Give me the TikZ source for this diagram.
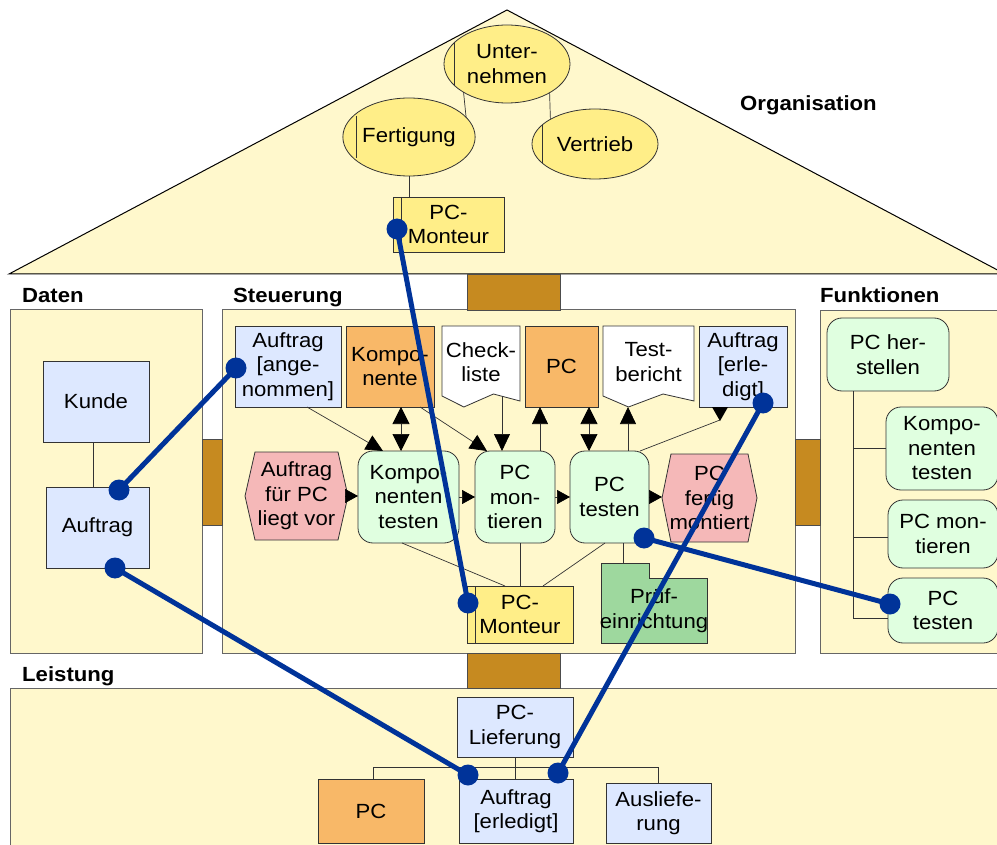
\documentclass[tikz,border=0pt]{standalone}
\usepackage{fontspec}
\setmainfont{Liberation Sans}[FakeStretch=1.08]
\usetikzlibrary{shapes.geometric,arrows.meta,calc}

\definecolor{panel}{HTML}{FFF8CC}
\definecolor{pillar}{HTML}{C68A20}
\definecolor{infoblue}{HTML}{DDE8FF}
\definecolor{prodorange}{HTML}{F8B868}
\definecolor{orgyellow}{HTML}{FFEE88}
\definecolor{funcgreen}{HTML}{E0FFE0}
\definecolor{eventpink}{HTML}{F5B8B8}
\definecolor{resgreen}{HTML}{9ED89E}
\definecolor{linkblue}{HTML}{003399}
\definecolor{edge}{HTML}{333333}

\newcommand\txt{\fontsize{20.5}{24.5}\selectfont}
\newcommand\lbl{\fontsize{20.5}{22}\selectfont\bfseries}

% document symbol with a wavy lower edge: x0, y0, width, height, style
\newcommand\docshape[5]{\filldraw[#5] (#1,#2) -- (#1+#3,#2) -- (#1+#3,#2+#4-6)
  -- (#1+0.66*#3,#2+#4-13) -- (#1+0.28*#3,#2+#4) -- (#1,#2+#4-11) -- cycle;}
% event hexagon: x0, y0, width, height, inset, style
\newcommand\hexshape[6]{\filldraw[#6] (#1,#2+#4/2) -- (#1+#5,#2) -- (#1+#3-#5,#2)
  -- (#1+#3,#2+#4/2) -- (#1+#3-#5,#2+#4) -- (#1+#5,#2+#4) -- cycle;}

\begin{document}
\begin{tikzpicture}[x=1pt,y=-1pt,
  base/.style={inner sep=0pt, outer sep=0pt, align=center, font=\txt},
  wh/.style 2 args={minimum width=#1pt, minimum height=#2pt},
  box/.style={base, rectangle, draw=edge, line width=0.8pt},
  info/.style={box, fill=infoblue},
  prod/.style={box, fill=prodorange},
  orgunit/.style={box, fill=orgyellow},
  func/.style={box, fill=funcgreen, rounded corners=15pt},
  orgell/.style={base, ellipse, draw=edge, line width=0.8pt, fill=orgyellow},
  outline/.style={draw=edge, line width=0.8pt},
  panelbox/.style={fill=panel, draw=black!60, line width=1pt},
  pillarbox/.style={fill=pillar, draw=black!70, line width=0.6pt},
  title/.style={anchor=base west, inner sep=0pt, font=\lbl},
  conn/.style={draw=edge, line width=0.7pt},
  tip/.style={Triangle[length=17pt,width=17pt,fill=black,color=black]},
  flow/.style={conn, -{Triangle[length=17pt,width=16pt,color=black]}},
  flowboth/.style={conn, {Triangle[length=17pt,width=17pt,color=black]}-{Triangle[length=17pt,width=17pt,color=black]}},
  link/.style={draw=linkblue, line width=5pt},
  dot/.style={fill=linkblue}]

\clip (0,0) rectangle (997,845);
\fill[white] (0,0) rectangle (997,845);

% ---------- house frame ----------
\filldraw[fill=panel, draw=black, line width=1pt] (9,274) -- (507,10) -- (1005,274) -- cycle;
\filldraw[panelbox] (10,310) rectangle (202,653);
\filldraw[panelbox] (222,310) rectangle (795,653);
\filldraw[panelbox] (820,311) rectangle (1005,653);
\filldraw[panelbox] (10,688) rectangle (1005,852);
\filldraw[pillarbox] (467,274) rectangle (560,310);
\filldraw[pillarbox] (202,439) rectangle (222,525);
\filldraw[pillarbox] (795,439) rectangle (820,525);
\filldraw[pillarbox] (467,653) rectangle (560,688);

\node[title] (torg) at (740,111) {Organisation};
\node[title] (tdat) at (22,303) {Daten};
\node[title] (tste) at (233,303) {Steuerung};
\node[title] (tfun) at (820,303) {Funktionen};
\node[title] (tlei) at (22,681) {Leistung};

% ---------- Organisation ----------
\node[orgell, wh={126}{78}] (unt) at (507,64) {Unter-\\nehmen};
\node[orgell, wh={126}{78}] (fert) at (409,137) {Fertigung};
\node[orgell, wh={126}{70}] (vert) at (595,144) {Vertrieb};
\draw[conn] ([shift={(-53,-21)}]unt.center) -- ([shift={(-53,21)}]unt.center);
\draw[conn] ([shift={(-53,-21)}]fert.center) -- ([shift={(-53,21)}]fert.center);
\draw[conn] ([shift={(-53,-19)}]vert.center) -- ([shift={(-53,19)}]vert.center);
\draw[conn] (unt.213.5) -- (fert.19.1);
\draw[conn] (unt.326.5) -- (vert.151.4);

\node[orgunit, wh={111}{55}] (rpm) at (448.5,224.5) {PC-\\Monteur};
\draw[conn] ([xshift=8pt]rpm.north west) -- ([xshift=8pt]rpm.south west);
\draw[conn] (fert.south) -- (rpm.north -| fert.south);

% ---------- Daten ----------
\node[info, wh={106}{81}] (kunde) at (96,401.5) {Kunde};
\node[info, wh={103}{81}] (dauf) at (97.5,527.5) {Auftrag};
\draw[conn] ([xshift=-3pt]kunde.south) -- ([xshift=-4.5pt]dauf.north);

% ---------- Steuerung: inputs and outputs ----------
\node[info, wh={106}{81}] (aang) at (288,366.5) {Auftrag\\{[}ange-\\nommen{]}};
\node[prod, wh={88}{81}] (komp) at (390,366.5) {Kompo-\\nente};
\docshape{442}{326}{78}{81}{outline, fill=white}
\node[base, wh={78}{72}] (check) at (481,362) {Check-\\liste};
\node[prod, wh={73}{81}] (spc) at (561.5,366.5) {PC};
\docshape{603}{326}{91}{81}{outline, fill=white}
\node[base, wh={91}{72}] (tber) at (648.5,362) {Test-\\bericht};
\node[info, wh={88}{81}] (aerl) at (743,366.5) {Auftrag\\{[}erle-\\digt{]}};

% ---------- Steuerung: process chain ----------
\hexshape{245}{452}{103}{88}{10}{outline, fill=eventpink}
\node[base, wh={103}{88}] (ev1) at (296.5,496) {Auftrag\\für PC\\liegt vor};
\node[func, wh={101}{92}] (kt) at (408.5,497) {Kompo-\\nenten\\testen};
\node[func, wh={80}{92}] (pcm) at (515,497) {PC\\mon-\\tieren};
\node[func, wh={79}{92}] (pct) at (609.5,497) {PC\\testen};
\hexshape{662}{454}{95}{88}{9}{outline, fill=eventpink}
\node[base, wh={95}{88}] (ev2) at (709.5,498) {PC\\fertig\\montiert};

\draw[conn, -{Triangle[length=13pt,width=14pt,color=black]}] (ev1.east) -- (kt.west |- ev1.east);
\draw[conn, -{Triangle[length=13pt,width=14pt,color=black]}] (kt.east) -- (pcm.west);
\draw[conn, -{Triangle[length=13pt,width=14pt,color=black]}] (pcm.east) -- (pct.west);
\draw[conn, -{Triangle[length=13pt,width=14pt,color=black]}] (pct.east) -- (ev2.west |- pct.east);

\draw[flow] ([xshift=19pt]aang.south) -- ([xshift=-25.5pt]kt.north);
\draw[flowboth] ([xshift=11pt]komp.south) -- ([xshift=-7.5pt]kt.north);
\draw[flow] ([xshift=30pt]komp.south) -- ([xshift=-28pt]pcm.north);
\draw[flow] ([xshift=21pt,yshift=2pt]check.south) -- ([xshift=-13pt]pcm.north);
\draw[flow] ([xshift=25pt]pcm.north) -- ([xshift=-21.5pt]spc.south);
\draw[flowboth] ([xshift=27.5pt]spc.south) -- ([xshift=-20.5pt]pct.north);
\draw[flow] ([xshift=18.5pt]pct.north) -- ([xshift=-20.5pt,yshift=-9pt]tber.south);
\draw[conn] ([xshift=30.5pt]pct.north) -- ([xshift=-23pt,yshift=-13pt]aerl.south);
\fill[black] ([xshift=-31pt]aerl.south) -- ([xshift=-15pt]aerl.south)
  -- ([xshift=-23pt,yshift=-14pt]aerl.south) -- cycle;

% ---------- Steuerung: resources ----------
\node[orgunit, wh={106}{57}] (spm) at (520,614.5) {PC-\\Monteur};
\draw[conn] ([xshift=8pt]spm.north west) -- ([xshift=8pt]spm.south west);
\filldraw[outline, fill=resgreen] (601,643) -- (601,563) -- (649,563) -- (649,578)
  -- (707,578) -- (707,643) -- cycle;
\node[base, wh={106}{65}] (pruef) at (654,610.5) {Prüf-\\einrichtung};

\draw[conn] ([xshift=-6.5pt]kt.south) -- ([xshift=-15pt]spm.north);
\draw[conn] ([xshift=5pt]pcm.south) -- (spm.north);
\draw[conn] ([xshift=-4.5pt]pct.south) -- ([xshift=23pt]spm.north);
\draw[conn] ([xshift=13.5pt]pct.south) -- ([xshift=-31pt,yshift=15pt]pruef.north);

% ---------- Funktionen ----------
\node[func, wh={122}{73}] (fher) at (888,354.5) {PC her-\\stellen};
\node[func, wh={112}{83}] (fkt) at (942,448.5) {Kompo-\\nenten\\testen};
\node[func, wh={110}{68}] (fpcm) at (943,534) {PC mon-\\tieren};
\node[func, wh={110}{65}] (fpct) at (943,610.5) {PC\\testen};
\draw[conn] ([xshift=-35pt]fher.south) |- (fkt.west);
\draw[conn] ([xshift=-35pt]fher.south) |- ([yshift=-3pt]fpcm.west);
\draw[conn] ([xshift=-35pt]fher.south) |- ([yshift=-7.5pt]fpct.west);

% ---------- Leistung ----------
\node[info, wh={116}{60}] (lpcl) at (515,727) {PC-\\Lieferung};
\node[prod, wh={106}{64}] (lpc) at (371,811) {PC};
\node[info, wh={114}{64}] (lauf) at (516,811) {Auftrag\\{[}erledigt{]}};
\node[info, wh={105}{60}] (laus) at (658.5,813) {Ausliefe-\\rung};
\draw[conn] (lpcl.south) -- (lpcl.south |- lauf.north);
\draw[conn] ([xshift=2pt]lpc.north) -- ++(0,-12) -| (laus.north);

% ---------- cross-view links ----------
\coordinate (l1a) at ([xshift=4pt,yshift=-4.5pt]rpm.west);
\coordinate (l1b) at ([xshift=1pt,yshift=11.5pt]spm.west);
\coordinate (l2a) at ([xshift=21.5pt,yshift=-3pt]dauf.north);
\coordinate (l2b) at ([xshift=1pt,yshift=-1.5pt]aang.west);
\coordinate (l3a) at ([xshift=17.5pt]dauf.south);
\coordinate (l3b) at ([xshift=-48pt,yshift=4pt]lauf.north);
\coordinate (l4a) at ([xshift=20pt,yshift=4pt]aerl.south);
\coordinate (l4b) at ([xshift=42pt,yshift=6pt]lauf.north);
\coordinate (l5a) at ([xshift=-5pt,yshift=5pt]pct.south east);
\coordinate (l5b) at ([xshift=2pt,yshift=6.5pt]fpct.west);

\draw[link] (l1a) -- (l1b);
\draw[link] (l2a) -- (l2b);
\draw[link] (l3a) -- (l3b);
\draw[link] (l4a) -- (l4b);
\draw[link] (l5a) -- (l5b);
\foreach \p in {l1a,l1b,l2a,l2b,l3a,l3b,l4a,l4b,l5a,l5b}
  \fill[dot] (\p) circle (10.5pt);

\end{tikzpicture}
\end{document}
